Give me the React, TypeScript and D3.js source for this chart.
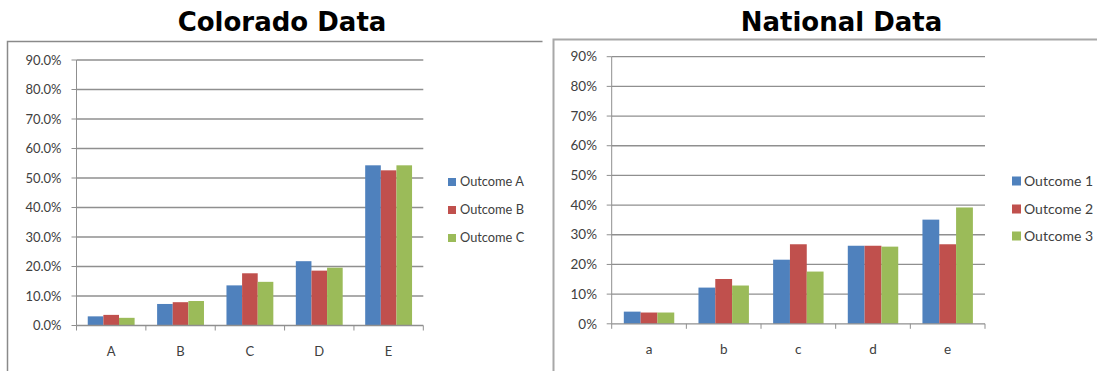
import React from "react";
import * as d3 from "d3";

const coloradoCategories = ["A", "B", "C", "D", "E"];
const coloradoSeries = ["Outcome A", "Outcome B", "Outcome C"];
const coloradoOutcomeA = [3.1, 7.3, 13.6, 21.8, 54.3];
const coloradoOutcomeB = [3.6, 7.9, 17.7, 18.6, 52.6];
const coloradoOutcomeC = [2.6, 8.3, 14.8, 19.6, 54.3];
const coloradoTicks = [0, 10, 20, 30, 40, 50, 60, 70, 80, 90];

const nationalCategories = ["a", "b", "c", "d", "e"];
const nationalSeries = ["Outcome 1", "Outcome 2", "Outcome 3"];
const nationalOutcome1 = [4.1, 12.2, 21.6, 26.3, 35.1];
const nationalOutcome2 = [3.8, 15.1, 26.8, 26.3, 26.8];
const nationalOutcome3 = [3.8, 12.9, 17.6, 26.0, 39.2];
const nationalTicks = [0, 10, 20, 30, 40, 50, 60, 70, 80, 90];

const colors = ["#4F81BD", "#C0504D", "#9BBB59"];

type ChartProps = {
  title: string;
  titleX: number;
  categories: string[];
  series: string[];
  values: number[][];
  ticks: number[];
  tickFormat: (v: number) => string;
  frame: { x: number; y: number; w: number; stroke: string; sw: number };
  plot: { x0: number; x1: number; yBottom: number; yTop: number };
  labelRight: number;
  tickFont: number;
  xLabelY: number;
  legend: { sx: number; tx: number; size: number; rows: number[]; font: number };
};

function Chart(p: ChartProps) {
  const x = d3.scaleBand<string>().domain(p.categories).range([p.plot.x0, p.plot.x1]).padding(0);
  const xi = d3
    .scaleBand<string>()
    .domain(p.series)
    .range([0, x.bandwidth()])
    .paddingInner(0)
    .paddingOuter(0.72);
  const y = d3.scaleLinear().domain([0, 90]).range([p.plot.yBottom, p.plot.yTop]);
  const boundaries = p.categories.map((c) => x(c)!).concat([p.plot.x1]);
  const font = "Lato, 'Open Sans', sans-serif";
  return (
    <g>
      <path
        d={`M${p.frame.x},400 V${p.frame.y} H${p.frame.x + p.frame.w}`}
        fill="none"
        stroke={p.frame.stroke}
        strokeWidth={p.frame.sw}
      />
      <text
        x={p.titleX}
        y={31}
        textAnchor="middle"
        fontFamily="'DejaVu Sans', Verdana, sans-serif"
        fontWeight="bold"
        fontSize={26}
        fill="#000"
      >
        {p.title}
      </text>
      {p.ticks.map((t) => (
        <g key={t}>
          {t > 0 && (
            <line x1={p.plot.x0} x2={p.plot.x1} y1={y(t)} y2={y(t)} stroke="#8f8f8f" strokeWidth={1.3} />
          )}
          <line x1={p.plot.x0 - 5} x2={p.plot.x0} y1={y(t)} y2={y(t)} stroke="#8f8f8f" strokeWidth={1} />
          <text
            x={p.labelRight}
            y={y(t)}
            dy="0.35em"
            textAnchor="end"
            fontFamily={font}
            fontSize={p.tickFont}
            fill="#404040"
          >
            {p.tickFormat(t)}
          </text>
        </g>
      ))}
      {p.categories.map((c, ci) =>
        p.series.map((s, si) => {
          const v = p.values[si][ci];
          return (
            <rect
              key={c + s}
              x={x(c)! + xi(s)!}
              y={y(v)}
              width={xi.bandwidth()}
              height={y(0) - y(v)}
              fill={colors[si]}
            />
          );
        })
      )}
      <line x1={p.plot.x0} x2={p.plot.x0} y1={p.plot.yTop} y2={p.plot.yBottom} stroke="#8f8f8f" strokeWidth={1} />
      <line x1={p.plot.x0} x2={p.plot.x1} y1={p.plot.yBottom} y2={p.plot.yBottom} stroke="#8f8f8f" strokeWidth={1.3} />
      {boundaries.map((b, i) => (
        <line key={i} x1={b} x2={b} y1={p.plot.yBottom} y2={p.plot.yBottom + 5} stroke="#8f8f8f" strokeWidth={1} />
      ))}
      {p.categories.map((c) => (
        <text
          key={c}
          x={x(c)! + x.bandwidth() / 2}
          y={p.xLabelY}
          dy="0.35em"
          textAnchor="middle"
          fontFamily={font}
          fontSize={p.tickFont}
          fill="#404040"
        >
          {c}
        </text>
      ))}
      {p.series.map((s, si) => (
        <g key={s}>
          <rect
            x={p.legend.sx}
            y={p.legend.rows[si] - p.legend.size / 2}
            width={p.legend.size}
            height={p.legend.size}
            fill={colors[si]}
          />
          <text
            x={p.legend.tx}
            y={p.legend.rows[si]}
            dy="0.35em"
            fontFamily={font}
            fontSize={p.legend.font}
            fill="#404040"
          >
            {s}
          </text>
        </g>
      ))}
    </g>
  );
}

export default function App() {
  return (
    <svg
      width={1097}
      height={371}
      style={{ position: "absolute", left: 0, top: 0, background: "#fff" }}
    >
      <rect width={1097} height={371} fill="#fff" />
      <Chart
        title="Colorado Data"
        titleX={282}
        categories={coloradoCategories}
        series={coloradoSeries}
        values={[coloradoOutcomeA, coloradoOutcomeB, coloradoOutcomeC]}
        ticks={coloradoTicks}
        tickFormat={(v) => v.toFixed(1) + "%"}
        frame={{ x: 7.5, y: 41.5, w: 535, stroke: "#8a8a8a", sw: 1.5 }}
        plot={{ x0: 76.5, x1: 423.3, yBottom: 325.5, yTop: 60 }}
        labelRight={61.5}
        tickFont={13}
        xLabelY={351}
        legend={{ sx: 448, tx: 460, size: 8, rows: [182, 210, 238], font: 12.8 }}
      />
      <Chart
        title="National Data"
        titleX={841.5}
        categories={nationalCategories}
        series={nationalSeries}
        values={[nationalOutcome1, nationalOutcome2, nationalOutcome3]}
        ticks={nationalTicks}
        tickFormat={(v) => v + "%"}
        frame={{ x: 553.5, y: 39.5, w: 560, stroke: "#a8a8a8", sw: 2 }}
        plot={{ x0: 611.7, x1: 985, yBottom: 323.8, yTop: 56.7 }}
        labelRight={597}
        tickFont={13.5}
        xLabelY={349}
        legend={{ sx: 1012, tx: 1024, size: 9, rows: [181, 209, 236], font: 14 }}
      />
    </svg>
  );
}
